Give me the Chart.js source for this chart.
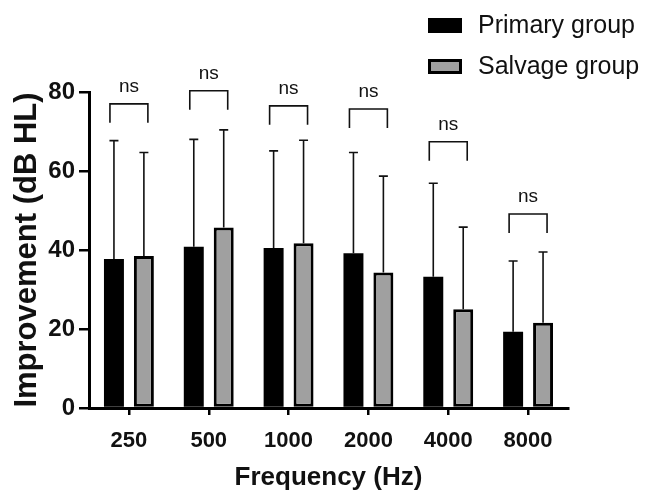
<!DOCTYPE html>
<html>
<head>
<meta charset="utf-8">
<script src="https://cdn.jsdelivr.net/npm/chart.js@4.4.0/dist/chart.umd.min.js"></script>
<style>
  html, body { margin: 0; padding: 0; background: #fff; }
  #wrap { width: 648px; height: 493px; }
</style>
</head>
<body>
<div id="wrap"><canvas id="chart" width="648" height="493"></canvas></div>
<script>
const frequencies = ["250", "500", "1000", "2000", "4000", "8000"];
const seriesNames = ["Primary group", "Salvage group"];
const primaryMeans = [37.7, 40.8, 40.5, 39.2, 33.2, 19.3];
const primarySD = [30.0, 27.2, 24.6, 25.5, 23.7, 17.9];
const salvageMeans = [38.5, 45.7, 41.7, 34.3, 25.0, 21.6];
const salvageSD = [26.2, 24.7, 26.1, 24.4, 20.8, 17.9];
// level (dB) of each "ns" bracket
const bracketLevels = [77.0, 80.3, 76.5, 75.7, 67.4, 49.1];
const bracketText = ["ns", "ns", "ns", "ns", "ns", "ns"];
const yTicks = [0, 20, 40, 60, 80];

const FONT = "'Liberation Sans', Arial, Helvetica, sans-serif";

// error bars + significance brackets
const annotations = {
  id: "annotations",
  afterDatasetsDraw(chart) {
    const { ctx } = chart;
    const y = chart.scales.y;
    const sds = [primarySD, salvageSD];
    ctx.save();
    ctx.strokeStyle = "#111";
    ctx.lineWidth = 1.6;
    chart.data.datasets.forEach((ds, i) => {
      const meta = chart.getDatasetMeta(i);
      meta.data.forEach((bar, j) => {
        const top = y.getPixelForValue(ds.data[j]);
        const end = y.getPixelForValue(ds.data[j] + sds[i][j]);
        ctx.beginPath();
        ctx.moveTo(bar.x, top);
        ctx.lineTo(bar.x, end);
        ctx.moveTo(bar.x - 4.5, end);
        ctx.lineTo(bar.x + 4.5, end);
        ctx.stroke();
      });
    });

    const m0 = chart.getDatasetMeta(0);
    const m1 = chart.getDatasetMeta(1);
    ctx.font = "19px " + FONT;
    ctx.fillStyle = "#111";
    ctx.textAlign = "center";
    ctx.textBaseline = "alphabetic";
    bracketLevels.forEach((lvl, j) => {
      const x0 = m0.data[j].x - 4;
      const x1 = m1.data[j].x + 4;
      const yy = y.getPixelForValue(lvl);
      ctx.beginPath();
      ctx.moveTo(x0, yy + 19);
      ctx.lineTo(x0, yy);
      ctx.lineTo(x1, yy);
      ctx.lineTo(x1, yy + 19);
      ctx.stroke();
      ctx.fillText(bracketText[j], (x0 + x1) / 2, yy - 12);
    });
    ctx.restore();
  },
  afterDraw(chart) {
    // legend, stacked in the top right corner
    const { ctx } = chart;
    const ds = chart.data.datasets;
    ctx.save();
    ctx.font = "25px " + FONT;
    ctx.textBaseline = "middle";
    ctx.textAlign = "left";
    ds.forEach((d, i) => {
      const cy = 25.5 + i * 41;
      ctx.fillStyle = "#000";
      ctx.fillRect(428, cy - 7.5, 34, 15);
      if (d.borderWidth) {
        ctx.fillStyle = d.backgroundColor;
        ctx.fillRect(431, cy - 4.5, 28, 9);
      }
      ctx.fillStyle = "#111";
      ctx.fillText(d.label, 478, cy + 1);
    });
    ctx.restore();
  },
};

new Chart(document.getElementById("chart").getContext("2d"), {
  type: "bar",
  data: {
    labels: frequencies,
    datasets: [
      {
        label: seriesNames[0],
        data: primaryMeans,
        backgroundColor: "#000",
        borderColor: "#000",
        borderWidth: 0,
      },
      {
        label: seriesNames[1],
        data: salvageMeans,
        backgroundColor: "#a0a0a0",
        borderColor: "#000",
        borderWidth: 3,
        borderSkipped: false,
      },
    ],
  },
  options: {
    responsive: false,
    animation: false,
    devicePixelRatio: 1,
    categoryPercentage: 0.75,
    barPercentage: 0.667,
    layout: { padding: { top: 92, right: 80, bottom: 0, left: 0 } },
    plugins: {
      legend: { display: false },
      tooltip: { enabled: false },
    },
    scales: {
      x: {
        afterFit: (scale) => { scale.height = 85; },
        grid: {
          offset: false,
          drawOnChartArea: false,
          drawTicks: true,
          tickLength: 7,
          lineWidth: 2.5,
          color: "#000",
        },
        border: { color: "#000", width: 3 },
        ticks: {
          color: "#111",
          padding: 13,
          font: { family: FONT, size: 22, weight: "bold" },
        },
        title: {
          display: true,
          text: "Frequency (Hz)",
          color: "#111",
          padding: { top: 0, bottom: 0 },
          font: { family: FONT, size: 26, weight: "bold" },
        },
      },
      y: {
        min: 0,
        max: 80,
        afterFit: (scale) => { scale.width = 89; },
        afterBuildTicks: (scale) => { scale.ticks = yTicks.map((v) => ({ value: v })); },
        grid: {
          drawOnChartArea: false,
          drawTicks: true,
          tickLength: 10,
          lineWidth: 2.5,
          color: "#000",
        },
        border: { color: "#000", width: 3 },
        ticks: {
          color: "#111",
          padding: 4,
          font: { family: FONT, size: 24, weight: "bold" },
        },
        title: {
          display: true,
          text: "Improvement (dB HL)",
          color: "#111",
          padding: { top: 9, bottom: 0 },
          font: { family: FONT, size: 31, weight: "bold" },
        },
      },
    },
  },
  plugins: [annotations],
});
</script>
</body>
</html>
